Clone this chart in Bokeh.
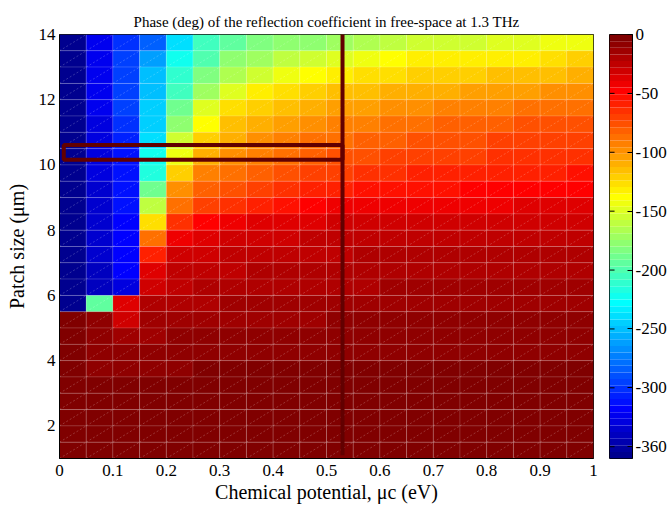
import numpy as np
from bokeh.plotting import figure
from bokeh.layouts import row
from bokeh.models import LinearColorMapper, FixedTicker, ColumnDataSource, Range1d
from bokeh.embed import file_html
from bokeh.resources import INLINE

# ---------------- data ----------------
# cell lower-left corners
mu_start = [0.00, 0.05, 0.10, 0.15, 0.20, 0.25, 0.30, 0.35, 0.40, 0.45,
            0.50, 0.55, 0.60, 0.65, 0.70, 0.75, 0.80, 0.85, 0.90, 0.95]
size_start = [13.5, 13.0, 12.5, 12.0, 11.5, 11.0, 10.5, 10.0, 9.5, 9.0,
              8.5, 8.0, 7.5, 7.0, 6.5, 6.0, 5.5, 5.0, 4.5, 4.0,
              3.5, 3.0, 2.5, 2.0, 1.5, 1.0]
mu_step = 0.05
size_step = 0.5

# phase (deg), rows from top (patch 13.5-14) to bottom (patch 1-1.5)
phase = [
    [-355, -326, -301, -283, -239, -207, -193, -184, -180, -175, -171, -166, -160, -157, -155, -153, -150, -148, -146, -144],
    [-355, -326, -297, -259, -225, -198, -180, -169, -162, -155, -147, -141, -138, -135, -134, -132, -131, -130, -125, -123],
    [-355, -326, -295, -252, -212, -184, -166, -153, -144, -138, -131, -128, -124, -122, -121, -119, -117, -115, -113, -110],
    [-355, -326, -295, -250, -203, -171, -148, -131, -124, -121, -117, -113, -111, -109, -107, -105, -104, -102, -100, -97],
    [-355, -326, -296, -247, -189, -151, -126, -120, -114, -110, -106, -103, -99, -96, -95, -93, -91, -89, -87, -86],
    [-355, -327, -300, -245, -175, -140, -117, -110, -104, -99, -95, -92, -88, -86, -84, -82, -80, -78, -77, -77],
    [-355, -328, -305, -239, -157, -122, -108, -101, -95, -90, -86, -83, -80, -77, -76, -74, -73, -72, -71, -70],
    [-356, -330, -312, -225, -144, -108, -99, -92, -86, -81, -77, -75, -72, -70, -68, -68, -67, -66, -65, -64],
    [-356, -331, -314, -214, -122, -95, -86, -81, -77, -72, -68, -66, -63, -61, -60, -59, -59, -58, -57, -56],
    [-356, -332, -315, -191, -101, -81, -74, -69, -65, -61, -59, -56, -54, -52, -51, -50, -50, -49, -48, -48],
    [-357, -333, -315, -160, -86, -70, -63, -57, -52, -49, -45, -43, -42, -41, -41, -40, -40, -39, -39, -38],
    [-357, -334, -316, -128, -65, -50, -42, -39, -36, -34, -33, -32, -32, -31, -31, -30, -30, -29, -29, -29],
    [-357, -335, -316, -86, -42, -36, -32, -30, -29, -28, -27, -27, -26, -26, -25, -25, -24, -24, -24, -23],
    [-357, -336, -316, -60, -32, -29, -27, -25, -24, -23, -23, -22, -22, -22, -21, -21, -21, -20, -20, -20],
    [-357, -338, -317, -39, -27, -24, -23, -22, -21, -21, -20, -20, -20, -19, -19, -19, -18, -18, -18, -18],
    [-358, -342, -328, -29, -23, -20, -19, -18, -18, -17, -17, -17, -16, -16, -16, -16, -15, -15, -15, -15],
    [-358, -193, -34, -20, -18, -17, -16, -15, -15, -15, -14, -14, -14, -14, -13, -13, -13, -13, -13, -13],
    [-2, -11, -32, -14, -14, -13, -13, -12, -12, -12, -11, -11, -11, -11, -11, -10, -10, -10, -10, -10],
    [-5, -9, -16, -12, -11, -10, -10, -9, -9, -9, -9, -8, -8, -8, -8, -8, -8, -8, -8, -8],
    [-5, -8, -11, -9, -8, -7, -7, -7, -7, -7, -6, -6, -6, -6, -6, -6, -6, -6, -6, -6],
    [-5, -6, -7, -7, -7, -3, -3, -3, -3, -3, -3, -3, -3, -3, -3, -3, -3, -3, -3, -5],
    [-4, -4, -5, -4, -3, -3, -3, -3, -3, -3, -3, -3, -3, -3, -3, -3, -3, -3, -3, -3],
    [-3, -3, -3, -3, -3, -3, -3, -2, -2, -2, -2, -2, -2, -2, -2, -2, -2, -2, -2, -3],
    [-3, -3, -3, -3, -2, -2, -2, -2, -2, -2, -2, -2, -2, -2, -2, -2, -2, -2, -2, -2],
    [-2, -2, -2, -2, -2, -2, -2, -2, -2, -2, -2, -2, -2, -2, -2, -2, -2, -2, -2, -2],
    [-2, -2, -2, -2, -2, -2, -2, -2, -2, -2, -2, -2, -2, -2, -2, -2, -2, -2, -2, -2],
]

mu_ticks = [0, 0.1, 0.2, 0.3, 0.4, 0.5, 0.6, 0.7, 0.8, 0.9, 1]
mu_tick_labels = ["0", "0.1", "0.2", "0.3", "0.4", "0.5", "0.6", "0.7", "0.8", "0.9", "1"]
size_ticks = [2, 4, 6, 8, 10, 12, 14]
size_tick_labels = ["2", "4", "6", "8", "10", "12", "14"]
cbar_ticks = [0, -50, -100, -150, -200, -250, -300, -350]
cbar_tick_labels = ["0", "-50", "-100", "-150", "-200", "-250", "-300", "-360"]
phase_low, phase_high = -360, 0

# selected design marker
marker_mu = 0.53
band_mu_start = 0.008
band_low = 10.16
band_high = 10.61
marker_size_low = 1.1
marker_size_high = 14.1

# ---------------- jet colormap (64) ----------------
def jet(m=64):
    n = int(np.ceil(m / 4))
    u = np.concatenate([np.arange(1, n + 1) / n, np.ones(n - 1), np.arange(n, 0, -1) / n])
    g = int(np.ceil(n / 2)) - (1 if m % 4 == 1 else 0) + np.arange(1, len(u) + 1)
    r = g + n
    b = g - n
    J = np.zeros((m, 3))
    J[r[r <= m] - 1, 0] = u[r <= m]
    J[g[g <= m] - 1, 1] = u[g <= m]
    J[b[b >= 1] - 1, 2] = u[b >= 1]
    return ["#%02x%02x%02x" % tuple(int(round(c * 255)) for c in row_) for row_ in J]

palette = jet(64)
mapper = LinearColorMapper(palette=palette, low=phase_low, high=phase_high)

left, right, bottom, top, val = [], [], [], [], []
for i, ys in enumerate(size_start):
    for j, xs in enumerate(mu_start):
        left.append(xs)
        right.append(xs + mu_step)
        bottom.append(ys)
        top.append(ys + size_step)
        val.append(phase[i][j])
src = ColumnDataSource(dict(left=left, right=right, bottom=bottom, top=top, val=val))

FONT = "Liberation Serif"

# ---------------- main map ----------------
p = figure(width=600, height=507, x_range=Range1d(0, 1), y_range=Range1d(1, 14),
           output_backend="svg", toolbar_location=None,
           min_border_left=59, min_border_right=7, min_border_top=34, min_border_bottom=49)
p.background_fill_color = "white"
p.border_fill_color = "white"
p.xgrid.visible = False
p.ygrid.visible = False
p.outline_line_color = "black"
p.outline_line_alpha = 1

p.quad(left="left", right="right", bottom="bottom", top="top", source=src,
       fill_color={"field": "val", "transform": mapper},
       line_color="white", line_alpha=0.2, line_width=0.7)
p.segment(x0="left", y0="bottom", x1="right", y1="top", source=src,
          line_color="white", line_alpha=0.35, line_width=0.6, line_dash="2 2")

p.quad(left=[band_mu_start], right=[marker_mu], bottom=[band_low], top=[band_high],
       fill_alpha=0, line_color="#620000", line_width=4)
p.segment(x0=[marker_mu], y0=[marker_size_low], x1=[marker_mu], y1=[marker_size_high],
          line_color="#620000", line_width=4)

p.xaxis.ticker = FixedTicker(ticks=mu_ticks)
p.xaxis.major_label_overrides = {t: l for t, l in zip(mu_ticks, mu_tick_labels)}
p.yaxis.ticker = FixedTicker(ticks=size_ticks)
p.yaxis.major_label_overrides = {t: l for t, l in zip(size_ticks, size_tick_labels)}
p.xaxis.axis_label = "Chemical potential, μc (eV)"
p.yaxis.axis_label = "Patch size (μm)"
for ax in [p.xaxis[0], p.yaxis[0]]:
    ax.major_tick_in = 0
    ax.major_tick_out = 0
    ax.minor_tick_line_color = None
    ax.axis_line_color = "black"
    ax.major_label_text_font = FONT
    ax.major_label_text_font_size = "17px"
    ax.major_label_text_color = "black"
    ax.axis_label_text_font = FONT
    ax.axis_label_text_font_size = "20px"
    ax.axis_label_text_font_style = "normal"
    ax.axis_label_text_color = "black"
p.xaxis.major_label_standoff = 6
p.xaxis.axis_label_standoff = 2
p.yaxis.major_label_standoff = 4
p.yaxis.axis_label_standoff = 8

p.title.text = "Phase (deg) of the reflection coefficient in free-space at 1.3 THz"
p.title.align = "center"
p.title.text_font = FONT
p.title.text_font_size = "15px"
p.title.text_font_style = "normal"
p.title.text_color = "black"

# ---------------- colour bar ----------------
nlev = len(palette)
lev_step = (phase_high - phase_low) / nlev
cb_src = ColumnDataSource(dict(
    bottom=[phase_low + k * lev_step for k in range(nlev)],
    top=[phase_low + (k + 1) * lev_step for k in range(nlev)],
    color=palette))

cb = figure(width=69, height=507, x_range=Range1d(0, 1), y_range=Range1d(phase_low, phase_high),
            output_backend="svg", toolbar_location=None, y_axis_location="right",
            min_border_left=9, min_border_right=37, min_border_top=34, min_border_bottom=49)
cb.xgrid.visible = False
cb.ygrid.visible = False
cb.xaxis.visible = False
cb.outline_line_color = "black"
cb.outline_line_alpha = 1
cb.background_fill_color = "white"
cb.border_fill_color = "white"
cb.quad(left=0, right=1, bottom="bottom", top="top", fill_color="color", line_color=None, source=cb_src)
cb.segment(x0=[0] * len(cbar_ticks), y0=cbar_ticks, x1=[0.22] * len(cbar_ticks), y1=cbar_ticks,
           line_color="black", line_width=1)
cax = cb.yaxis[0]
cax.ticker = FixedTicker(ticks=cbar_ticks)
cax.major_label_overrides = {t: l for t, l in zip(cbar_ticks, cbar_tick_labels)}
cax.major_tick_in = 5
cax.major_tick_out = 0
cax.minor_tick_line_color = None
cax.axis_line_color = "black"
cax.major_label_standoff = 3
cax.major_label_text_font = FONT
cax.major_label_text_font_size = "17px"
cax.major_label_text_color = "black"

layout = row(p, cb)
open("out.html", "w").write(file_html(layout, INLINE))
